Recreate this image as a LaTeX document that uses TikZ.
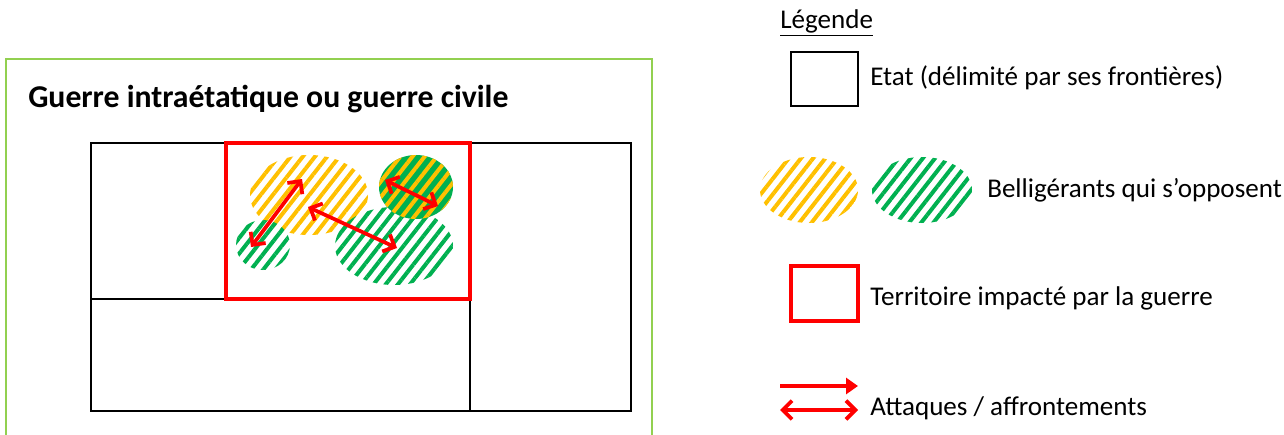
\documentclass[tikz,border=0pt]{standalone}
\usepackage{fontspec}
\setmainfont{Carlito}
\usetikzlibrary{arrows.meta,patterns.meta,positioning}

\definecolor{jaune}{HTML}{FFC000}
\definecolor{vert}{HTML}{00B050}
\definecolor{vertclair}{HTML}{92D050}
\definecolor{rouge}{HTML}{FF0000}

\tikzset{
  etat/.style={draw=black,line width=1.6pt},
  zone/.style={draw=rouge,line width=3.4pt},
  camp/.style={pattern={Lines[angle=52,distance=7.2pt,line width=3pt]},pattern color=#1},
  attaque/.style={draw=rouge,line width=2.8pt,{Straight Barb[length=7pt,width=14pt]}-{Straight Barb[length=7pt,width=14pt]}},
  legtxt/.style={anchor=west,inner sep=0pt,font=\fontsize{20.3}{24}\selectfont}
}

\begin{document}
\begin{tikzpicture}[x=0.75pt,y=-0.75pt]
      \useasboundingbox (0,0) rectangle (1284,435);

      % cadre
      \draw[vertclair,line width=1.2pt] (6,435) -- (6,59) -- (652,59) -- (652,435);
      \node[anchor=west,inner sep=0pt,font=\bfseries\fontsize{23.8}{28}\selectfont] (titre) at (28,99) {Guerre intraétatique ou guerre civile};

      % etats
      \draw[etat] (91,143) rectangle (631,411);
      \draw[etat] (91,299) -- (470,299);
      \draw[etat] (470,299) -- (470,411);

      % belligerants
      \fill[camp=jaune] (309,195) ellipse (59 and 40);
      \fill[camp=vert] (263,245) ellipse (27 and 25);
      \fill[camp=vert] (394,246) ellipse (59 and 39);
      \fill[vert] (416,187) ellipse (37 and 32);
      \fill[camp=jaune] (416,187) ellipse (37 and 32);

      % territoire
      \draw[zone] (226,143) rectangle (470,299);

      % attaques
      \coordinate (a1) at (302,179);
      \coordinate (a2) at (251,247);
      \coordinate (b1) at (308,207);
      \coordinate (b2) at (397,248);
      \coordinate (c1) at (385,180);
      \coordinate (c2) at (438,206);
      \draw[attaque] (a1) -- (a2);
      \draw[attaque] (b1) -- (b2);
      \draw[attaque] (c1) -- (c2);

      % legende
      \node[legtxt] (leg) at (780,23) {\underline{Légende}};

      \draw[black,line width=1.6pt] (791,52) rectangle (858,106);
      \node[legtxt] (l1) at (870,78) {Etat (délimité par ses frontières)};

      \fill[camp=jaune] (809,190) ellipse (49 and 33);
      \fill[camp=vert] (922,190) ellipse (50 and 33);
      \node[legtxt] (l2) at (987,190) {Belligérants qui s’opposent};

      \draw[zone] (791,266) rectangle (858,321);
      \node[legtxt] (l3) at (870,298) {Territoire impacté par la guerre};

      \coordinate (s1) at (780,386);
      \coordinate (s2) at (858,386);
      \coordinate (d1) at (780,410);
      \coordinate (d2) at (858,410);
      \draw[draw=rouge,line width=2.8pt,-{Triangle[length=9pt,width=12pt]}] (s1) -- (s2);
      \draw[attaque] (d1) -- (d2);
      \node[legtxt] (l4) at (870,408) {Attaques / affrontements};

    \end{tikzpicture}
\end{document}
